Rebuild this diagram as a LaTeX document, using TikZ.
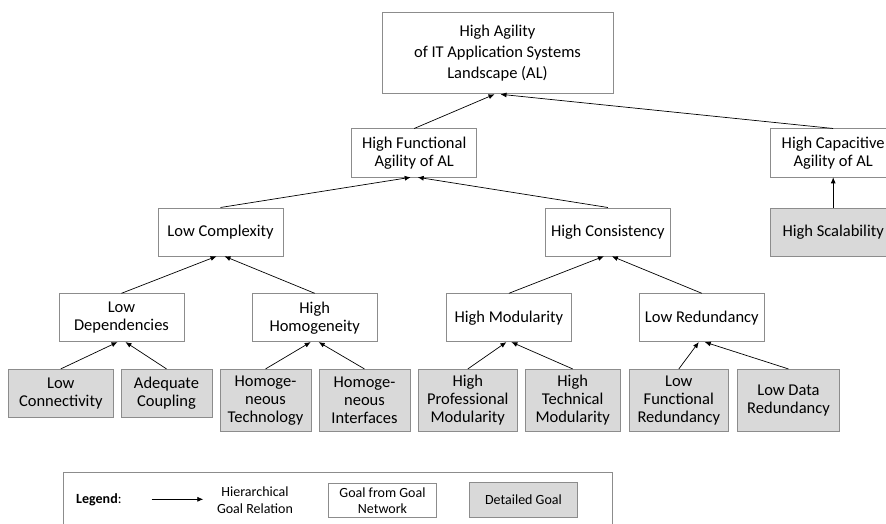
\documentclass[tikz,border=0pt]{standalone}
\usepackage{fontspec}
\setmainfont{Carlito}
\usetikzlibrary{arrows.meta}
\definecolor{detailgray}{RGB}{217,217,217}
\definecolor{framegray}{RGB}{140,140,140}

\tikzset{
  goal/.style={draw=framegray, fill=white, line width=0.8pt, align=center, inner sep=0pt,
    minimum width=125pt, minimum height=48pt, font=\fontsize{16.5}{18}\selectfont},
  detail/.style={goal, fill=detailgray},
  refine/.style={-{Latex[length=6pt,width=5pt]}, line width=0.7pt},
  legendfont/.style={font=\fontsize{14}{16.6}\selectfont}
}

\begin{document}
\begin{tikzpicture}[x=1pt,y=-1pt]
  \useasboundingbox (0,0) rectangle (886,524);
  \clip (0,0) rectangle (886,524);

  % top goal
  \node[goal, minimum width=231pt, minimum height=81pt, font=\fontsize{16.5}{21}\selectfont] (agility) at (497.5,53.4) {High Agility\\of IT Application Systems\\Landscape (AL)};

  % second level
  \node[goal] (funcagil) at (414.2,152.9) {High Functional\\Agility of AL};
  \node[goal] (capagil) at (833.2,152.9) {High Capacitive\\Agility of AL};

  % third level
  \node[goal] (lowcompl) at (220.5,231.9) {Low Complexity};
  \node[goal] (highcons) at (607.9,231.9) {High Consistency};
  \node[detail] (highscal) at (833.2,231.9) {High Scalability};

  % fourth level
  \node[goal] (lowdep) at (121.5,317.7) {Low\\Dependencies};
  \node[goal] (highhomog) at (314.7,317.7) {High\\Homogeneity};
  \node[goal] (highmod) at (508.9,317.7) {High Modularity};
  \node[goal] (lowred) at (701.8,317.7) {Low Redundancy};

  % detailed goals
  \node[detail, minimum width=105pt] (lowconn) at (60.8,393.3) {Low\\Connectivity};
  \node[detail, minimum width=91pt] (adeqcoup) at (166.5,393.3) {Adequate\\Coupling};
  \node[detail, minimum width=91pt, minimum height=61.7pt] (homtech) at (265.5,400.2) {Homoge-\\neous\\Technology};
  \node[detail, minimum width=91pt, minimum height=61.7pt] (homintf) at (364.5,400.2) {Homoge-\\neous\\Interfaces};
  \node[detail, minimum width=99pt, minimum height=61.7pt] (profmod) at (467.8,400.2) {High\\Professional\\Modularity};
  \node[detail, minimum width=94.7pt, minimum height=61.7pt] (techmod) at (572.7,400.2) {High\\Technical\\Modularity};
  \node[detail, minimum width=99pt, minimum height=61.7pt] (lowfunc) at (678.8,400.2) {Low\\Functional\\Redundancy};
  \node[detail, minimum width=101.6pt, minimum height=61.7pt] (lowdata) at (788.5,400.2) {Low Data\\Redundancy};

  % goal relations
  \draw[refine] (funcagil.north) -- ([xshift=-3pt]agility.south);
  \draw[refine] (capagil.north) -- ([xshift=3pt]agility.south);
  \draw[refine] (lowcompl.north) -- ([xshift=-3.5pt]funcagil.south);
  \draw[refine] (highcons.north) -- ([xshift=3.5pt]funcagil.south);
  \draw[refine] (highscal.north) -- (capagil.south);
  \draw[refine] (lowdep.north) -- ([xshift=-4pt]lowcompl.south);
  \draw[refine] (highhomog.north) -- ([xshift=4pt]lowcompl.south);
  \draw[refine] (highmod.north) -- ([xshift=-4pt]highcons.south);
  \draw[refine] (lowred.north) -- ([xshift=4pt]highcons.south);
  \draw[refine] (lowconn.north) -- ([xshift=-4pt]lowdep.south);
  \draw[refine] (adeqcoup.north) -- ([xshift=4pt]lowdep.south);
  \draw[refine] (homtech.north) -- ([xshift=-4pt]highhomog.south);
  \draw[refine] (homintf.north) -- ([xshift=4pt]highhomog.south);
  \draw[refine] (profmod.north) -- ([xshift=-2.5pt]highmod.south);
  \draw[refine] (techmod.north) -- ([xshift=2.5pt]highmod.south);
  \draw[refine] (lowfunc.north) -- ([xshift=-3pt]lowred.south);
  \draw[refine] (lowdata.north) -- ([xshift=3pt]lowred.south);

  % legend
  \draw[draw=framegray, line width=0.8pt] (63.3,472.3) rectangle (612.3,530);
  \node[legendfont, anchor=west] (legendlbl) at (72.7,499.3) {\textbf{Legend}:};
  \coordinate (arrowstart) at (151.7,499.3);
  \coordinate (arrowend) at (203.3,499.3);
  \draw[refine] (arrowstart) -- (arrowend);
  \node[legendfont, align=center] (relationlbl) at (255,500) {Hierarchical\\Goal Relation};
  \node[goal, legendfont, minimum width=108.4pt, minimum height=34.4pt] (goalkey) at (382.5,500.5) {Goal from Goal\\Network};
  \node[detail, legendfont, minimum width=108.4pt, minimum height=35.4pt] (detailkey) at (523.5,500) {Detailed Goal};
\end{tikzpicture}
\end{document}
